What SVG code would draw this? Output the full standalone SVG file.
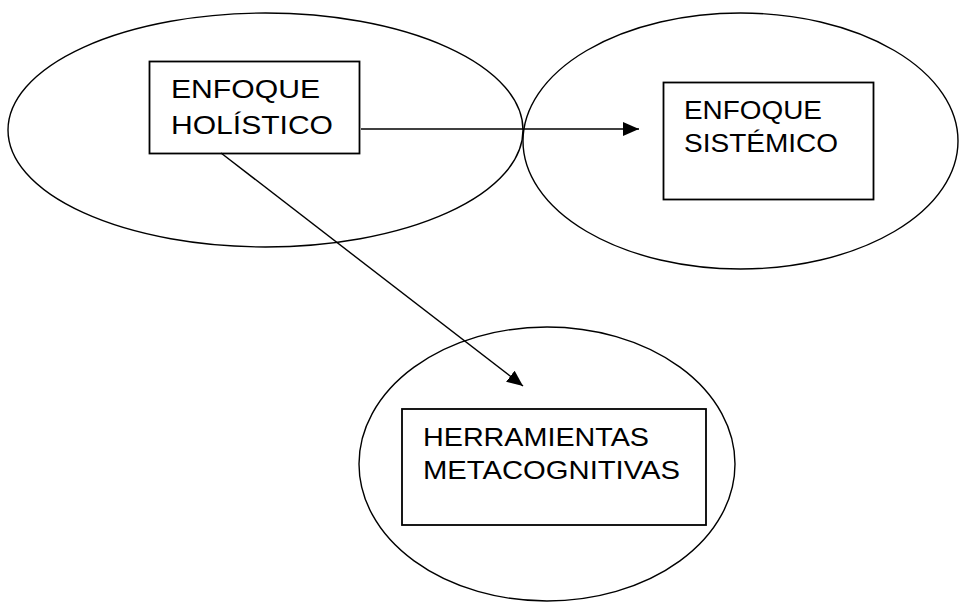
<svg xmlns="http://www.w3.org/2000/svg" width="959" height="602" viewBox="0 0 959 602">
<style>
.ell{fill:none;stroke:#000;stroke-width:1.4}
.box{fill:#fff;stroke:#000;stroke-width:1.8}
.lbl{font-family:"Liberation Sans",Arial,sans-serif;font-size:26px;fill:#000}
.con{fill:none;stroke:#000;stroke-width:1.4}
</style>
<defs>
<marker id="ah" viewBox="0 0 16 14" refX="16" refY="7" markerWidth="16" markerHeight="14" markerUnits="userSpaceOnUse" orient="auto">
<path d="M0,0 L16,7 L0,14 Z" fill="#000"/>
</marker>
</defs>
<rect width="959" height="602" fill="#fff"/>
<g id="ellipses">
<ellipse class="ell" cx="265.5" cy="130" rx="257.5" ry="117"/>
<ellipse class="ell" cx="740.5" cy="141" rx="217.5" ry="128"/>
<ellipse class="ell" cx="547" cy="464" rx="188" ry="137"/>
</g>
<g id="node-holistico">
<rect class="box" x="149.5" y="61.5" width="210" height="92"/>
<text class="lbl" x="171" y="98" font-size="26.5" textLength="149" lengthAdjust="spacingAndGlyphs">ENFOQUE</text>
<text class="lbl" x="171" y="134" font-size="26.5" textLength="162" lengthAdjust="spacingAndGlyphs">HOLÍSTICO</text>
</g>
<g id="node-sistemico">
<rect class="box" x="663.5" y="82.5" width="210" height="117"/>
<text class="lbl" x="684" y="119" font-size="25" textLength="138" lengthAdjust="spacingAndGlyphs">ENFOQUE</text>
<text class="lbl" x="684" y="152" font-size="25" textLength="154" lengthAdjust="spacingAndGlyphs">SISTÉMICO</text>
</g>
<g id="node-herramientas">
<rect class="box" x="402" y="409" width="304" height="116"/>
<text class="lbl" x="423" y="446" textLength="226" lengthAdjust="spacingAndGlyphs">HERRAMIENTAS</text>
<text class="lbl" x="423" y="479" textLength="257" lengthAdjust="spacingAndGlyphs">METACOGNITIVAS</text>
</g>
<g id="connectors">
<line class="con" x1="361" y1="129" x2="639" y2="129" marker-end="url(#ah)"/>
<line class="con" x1="221" y1="153" x2="523" y2="386" marker-end="url(#ah)"/>
</g>
</svg>
